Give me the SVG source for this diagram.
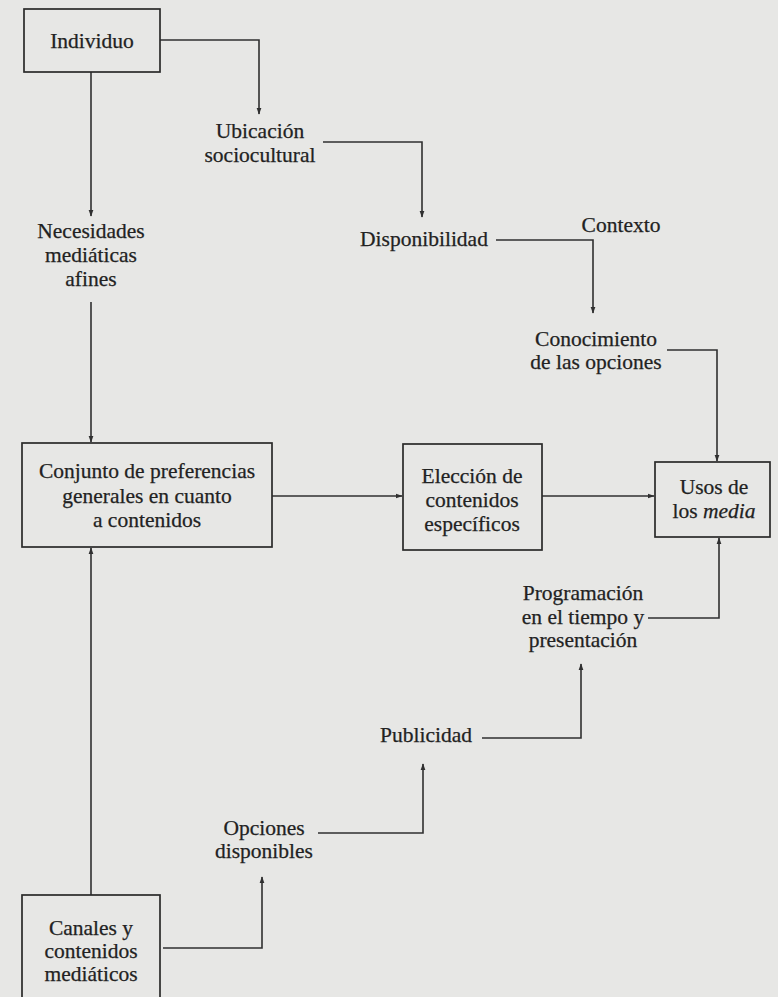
<svg xmlns="http://www.w3.org/2000/svg" width="778" height="997" viewBox="0 0 778 997">
  <style>
    .bg { fill: #e7e7e5; }
    .box { fill: none; stroke: #2a2a2a; stroke-width: 1.7; }
    .t { font-family: "Liberation Serif", "Times New Roman", serif; font-size: 21.5px; fill: #222; stroke: #222; stroke-width: 0.25; text-anchor: middle; }
    .c { fill: none; stroke: #303030; stroke-width: 1.6; marker-end: url(#ah); }
  </style>
  <defs>
    <marker id="ah" viewBox="0 0 10 10" refX="9" refY="5" markerWidth="7" markerHeight="7" markerUnits="userSpaceOnUse" orient="auto">
      <path d="M0,1.5 L10,5 L0,8.5 Z" fill="#303030"/>
    </marker>
  </defs>

  <rect class="bg" x="0" y="0" width="778" height="997"/>

  <g id="connectors">
    <path class="c" d="M160,40 H259 V114"/>
    <path class="c" d="M91,72 V216"/>
    <path class="c" d="M323,142 H422 V217"/>
    <path class="c" d="M496,240 H593 V313"/>
    <path class="c" d="M91,302 V442"/>
    <path class="c" d="M667,350 H717 V461"/>
    <path class="c" d="M272,496 H402"/>
    <path class="c" d="M542,496 H654"/>
    <path class="c" d="M648,618 H719 V538"/>
    <path class="c" d="M482,738 H581 V664"/>
    <path class="c" d="M318,833 H423 V764"/>
    <path class="c" d="M163,948 H262 V877"/>
    <path class="c" d="M91,895 V548"/>
  </g>

  <g id="individuo">
    <rect class="box" x="24" y="9" width="136" height="63"/>
    <text class="t" x="92" y="48">Individuo</text>
  </g>

  <g id="ubicacion">
    <text class="t" x="260" y="138">Ubicación</text>
    <text class="t" x="260" y="162">sociocultural</text>
  </g>

  <g id="necesidades">
    <text class="t" x="91" y="238">Necesidades</text>
    <text class="t" x="91" y="262">mediáticas</text>
    <text class="t" x="91" y="286">afines</text>
  </g>

  <g id="disponibilidad">
    <text class="t" x="424" y="246">Disponibilidad</text>
  </g>

  <g id="contexto">
    <text class="t" x="621" y="232">Contexto</text>
  </g>

  <g id="conocimiento">
    <text class="t" x="596" y="346">Conocimiento</text>
    <text class="t" x="596" y="369">de las opciones</text>
  </g>

  <g id="conjunto">
    <rect class="box" x="22" y="443" width="250" height="104"/>
    <text class="t" x="147" y="478">Conjunto de preferencias</text>
    <text class="t" x="147" y="503">generales en cuanto</text>
    <text class="t" x="147" y="527">a contenidos</text>
  </g>

  <g id="eleccion">
    <rect class="box" x="403" y="444" width="139" height="106"/>
    <text class="t" x="472" y="483">Elección de</text>
    <text class="t" x="472" y="507">contenidos</text>
    <text class="t" x="472" y="531">específicos</text>
  </g>

  <g id="usos">
    <rect class="box" x="655" y="462" width="115" height="75"/>
    <text class="t" x="714" y="494">Usos de</text>
    <text class="t" x="714" y="518">los <tspan font-style="italic">media</tspan></text>
  </g>

  <g id="programacion">
    <text class="t" x="583" y="600">Programación</text>
    <text class="t" x="583" y="624">en el tiempo y</text>
    <text class="t" x="583" y="647">presentación</text>
  </g>

  <g id="publicidad">
    <text class="t" x="426" y="742">Publicidad</text>
  </g>

  <g id="opciones">
    <text class="t" x="264" y="835">Opciones</text>
    <text class="t" x="264" y="858">disponibles</text>
  </g>

  <g id="canales">
    <rect class="box" x="22" y="895" width="138" height="104"/>
    <text class="t" x="91" y="935">Canales y</text>
    <text class="t" x="91" y="958">contenidos</text>
    <text class="t" x="91" y="981">mediáticos</text>
  </g>
</svg>
